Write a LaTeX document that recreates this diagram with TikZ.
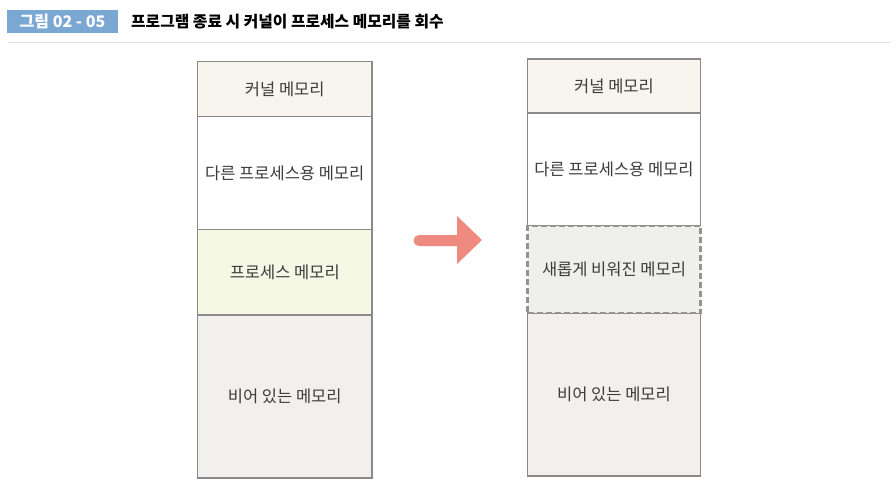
\documentclass[tikz,border=0pt]{standalone}
\usepackage{fontspec}
\setmainfont{Noto Sans CJK KR}
\newfontfamily\krfont{Noto Sans CJK KR}
\definecolor{hdrblue}{HTML}{7BA7D3}
\definecolor{edge}{HTML}{8C8A88}
\definecolor{kernfill}{HTML}{F8F5EE}
\definecolor{procfill}{HTML}{F4F8E5}
\definecolor{emptyfill}{HTML}{F1F0EE}
\definecolor{dashfill}{HTML}{EFEFEC}
\definecolor{dashedge}{HTML}{959391}
\definecolor{arrowred}{HTML}{EE8A80}
\definecolor{txt}{HTML}{3C3C3C}
\tikzset{
  seg/.style={draw=edge, line width=1.1pt, inner sep=0pt, font=\krfont\fontsize{16.5}{19}\selectfont, text=txt},
  leftseg/.style={seg, minimum width=174.5pt},
  rightseg/.style={seg, minimum width=173pt},
  freed/.style={draw=dashedge, line width=2.2pt, dash pattern=on 6pt off 3pt, fill=dashfill, inner sep=0pt,
     minimum width=173pt, font=\krfont\fontsize{16.5}{19}\selectfont, text=txt},
}
\begin{document}
\begin{tikzpicture}[x=1pt,y=-1pt]
\useasboundingbox[fill=white] (0,0) rectangle (896,484);
% header
\node[fill=hdrblue, minimum width=111pt, minimum height=23pt, inner sep=0pt, text=white,
      font=\krfont\bfseries\fontsize{16}{18}\selectfont] (fig) at (62.5,21.5) {그림 02 - 05};
\node[anchor=west, inner sep=0pt, font=\krfont\bfseries\fontsize{15.8}{18}\selectfont, text=black]
      (title) at (131,21.5) {프로그램 종료 시 커널이 프로세스 메모리를 회수};
\draw[color=black!12, line width=0.8pt] (8,42) -- (890,42);
% left column
\node[leftseg, fill=kernfill, minimum height=55pt] (lk) at (284.75,89) {커널 메모리};
\node[leftseg, fill=white, minimum height=113pt] (lo) at (284.75,173) {다른 프로세스용 메모리};
\node[leftseg, fill=procfill, minimum height=85.5pt] (lp) at (284.75,272.25) {프로세스 메모리};
\node[leftseg, fill=emptyfill, minimum height=163pt] (le) at (284.75,396.5) {비어 있는 메모리};
% right column
\node[rightseg, fill=kernfill, minimum height=54pt] (rk) at (614,86) {커널 메모리};
\node[rightseg, fill=white, minimum height=113pt] (ro) at (614,169.5) {다른 프로세스용 메모리};
\node[rightseg, fill=emptyfill, minimum height=163pt] (re) at (614,394.5) {비어 있는 메모리};
\node[freed, minimum height=87pt] (rf) at (614,269.5) {새롭게 비워진 메모리};
% arrow
\fill[arrowred] (419,235) -- (457,235) -- (457,216) -- (482,240) -- (457,264) -- (457,246)
   -- (419,246) arc[start angle=270, end angle=90, radius=5.5pt] -- cycle;
\end{tikzpicture}
\end{document}
